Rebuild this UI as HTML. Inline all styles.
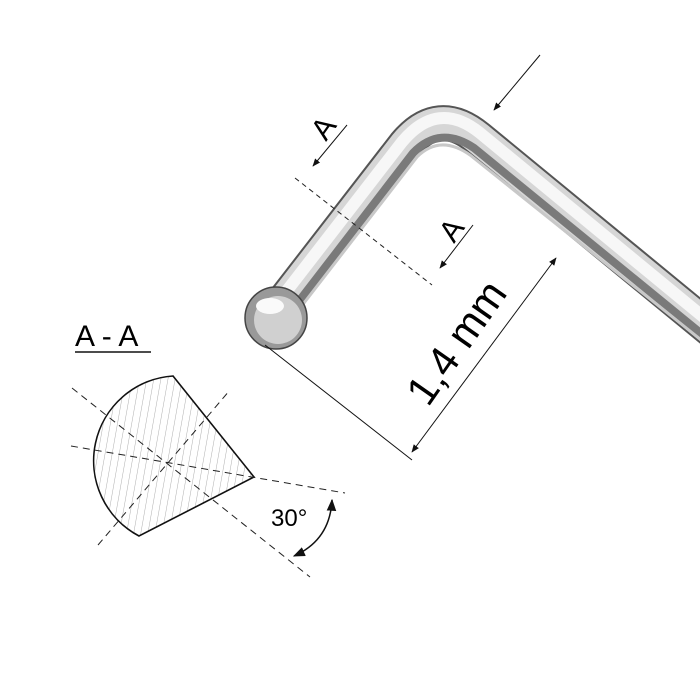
<!DOCTYPE html>
<html><head><style>body{margin:0;background:#fff}svg{display:block}</style></head><body>
<svg width="700" height="700" viewBox="0 0 700 700" xmlns="http://www.w3.org/2000/svg" font-family="Liberation Sans, sans-serif">
<defs>
<marker id="ah" viewBox="0 0 10 10" refX="9" refY="5" markerWidth="8" markerHeight="8" orient="auto-start-reverse"><path d="M0,1 L10,5 L0,9 z" fill="#111"/></marker>
<pattern id="hatch" width="7" height="7" patternUnits="userSpaceOnUse" patternTransform="rotate(10)"><line x1="0" y1="0" x2="0" y2="7" stroke="#999" stroke-width="0.8"/></pattern>
</defs>
<path d="M285 300 L405 145 Q438 105 478 138 L730 345" fill="none" stroke="#555" stroke-width="36" stroke-linejoin="round"/>
<path d="M285 300 L405 145 Q438 105 478 138 L730 345" fill="none" stroke="#d6d6d6" stroke-width="32" stroke-linejoin="round"/>
<path d="M282 297 L402 142 Q438 99 480 133 L730 339" fill="none" stroke="#f7f7f7" stroke-width="12"/>
<path d="M293 309 L413 153 Q440 125 474 148 L730 357" fill="none" stroke="#7a7a7a" stroke-width="8"/>
<path d="M297 312 L417 157 Q440 134 470 155 L730 363" fill="none" stroke="#c8c8c8" stroke-width="3"/>
<circle cx="276" cy="318" r="31" fill="#999" stroke="#444" stroke-width="1.5"/>
<circle cx="278" cy="320" r="24" fill="#d0d0d0"/>
<ellipse cx="270" cy="306" rx="14" ry="8" fill="#fafafa"/>
<line x1="295" y1="178" x2="432" y2="285" stroke="#222" stroke-dasharray="5,4"/>
<line x1="347" y1="125" x2="313" y2="166" stroke="#111" marker-end="url(#ah)"/>
<line x1="473" y1="225" x2="440" y2="268" stroke="#111" marker-end="url(#ah)"/>
<line x1="540" y1="55" x2="494" y2="110" stroke="#111" marker-end="url(#ah)"/>
<text x="0" y="0" font-size="30" transform="translate(326,142) rotate(-55)">A</text>
<text x="0" y="0" font-size="30" transform="translate(454,244) rotate(-55)">A</text>
<line x1="265" y1="345" x2="412" y2="460" stroke="#111"/>
<line x1="412" y1="452" x2="556" y2="258" stroke="#111" marker-start="url(#ah)" marker-end="url(#ah)"/>
<text x="0" y="0" font-size="42" transform="translate(428,408) rotate(-55)">1,4 mm</text>
<text x="75" y="346" font-size="30">A - A</text>
<line x1="75" y1="352" x2="151" y2="352" stroke="#111" stroke-width="1.5"/>
<path d="M173 376 L254 477 L139 536 A85 85 0 0 1 173 376 Z" fill="url(#hatch)" stroke="#111" stroke-width="1.6"/>
<g stroke="#222" stroke-dasharray="7,5" stroke-width="1">
<line x1="72" y1="388" x2="310" y2="577"/>
<line x1="71" y1="446" x2="345" y2="493"/>
<line x1="98" y1="545" x2="230" y2="390"/>
</g>
<path d="M332 500 Q330 540 294 556" fill="none" stroke="#111" stroke-width="1.5" marker-start="url(#ah)" marker-end="url(#ah)"/>
<text x="271" y="526" font-size="24">30°</text>
</svg>
</body></html>
